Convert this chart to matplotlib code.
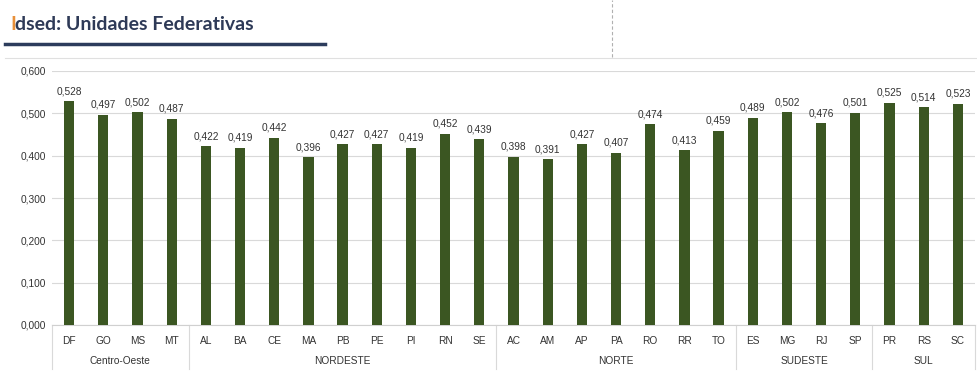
import matplotlib.pyplot as plt
from matplotlib.lines import Line2D

states = ["DF", "GO", "MS", "MT",
          "AL", "BA", "CE", "MA", "PB", "PE", "PI", "RN", "SE",
          "AC", "AM", "AP", "PA", "RO", "RR", "TO",
          "ES", "MG", "RJ", "SP",
          "PR", "RS", "SC"]
values = [0.528, 0.497, 0.502, 0.487,
          0.422, 0.419, 0.442, 0.396, 0.427, 0.427, 0.419, 0.452, 0.439,
          0.398, 0.391, 0.427, 0.407, 0.474, 0.413, 0.459,
          0.489, 0.502, 0.476, 0.501,
          0.525, 0.514, 0.523]
regions = ["Centro-Oeste", "NORDESTE", "NORTE", "SUDESTE", "SUL"]
region_sizes = [4, 9, 7, 4, 3]

plt.rcParams['font.family'] = ['Liberation Sans', 'DejaVu Sans']

fig = plt.figure(figsize=(9.77, 3.79), dpi=100)
ax = fig.add_axes([52 / 977, 1 - 325 / 379, 923 / 977, (325 - 71) / 379])

x = list(range(len(states)))
ax.bar(x, values, width=0.3, color="#3b5622", zorder=3)
for xi, v in zip(x, values):
    ax.text(xi, v + 0.012, f"{v:.3f}".replace(".", ","), ha="center", va="bottom",
            fontsize=7.3, color="#333333")

ax.set_xlim(-0.5, len(states) - 0.5)
ax.set_ylim(0, 0.6)
yt = [0, 0.1, 0.2, 0.3, 0.4, 0.5, 0.6]
ax.set_yticks(yt)
ax.set_yticklabels([f"{t:.3f}".replace(".", ",") for t in yt], fontsize=7.3, color="#333333")
ax.grid(axis="y", color="#d9d9d9", linewidth=0.8, zorder=0)
for s in ["top", "right", "left"]:
    ax.spines[s].set_visible(False)
ax.spines["bottom"].set_color("#d0d0d0")
ax.tick_params(axis="y", length=0, pad=4)
ax.set_xticks(x)
ax.set_xticklabels(states, fontsize=7.3, color="#333333")
ax.tick_params(axis="x", length=0, pad=8)

# region labels and separators
trans = ax.get_xaxis_transform()
start = 0
bounds = [-0.5]
for name, n in zip(regions, region_sizes):
    mid = start + (n - 1) / 2
    ax.text(mid, -0.14, name, transform=trans, ha="center", va="center",
            fontsize=7.3, color="#333333")
    start += n
    bounds.append(start - 0.5)
for b in bounds:
    ax.add_line(Line2D([b, b], [0, -0.175], transform=trans, color="#d9d9d9",
                       linewidth=0.8, clip_on=False))

# header
fig.text(10 / 977, 1 - 24 / 379, "I", color="#e8903a", fontsize=14,
         family="Lato", weight="bold", va="center", ha="left")
fig.text(15 / 977, 1 - 24 / 379, "dsed: Unidades Federativas", color="#2e3a57",
         fontsize=14, family="Lato", weight="bold", va="center", ha="left")
fig.add_artist(Line2D([5 / 977, 325 / 977], [1 - 44 / 379, 1 - 44 / 379],
                      color="#2c3c5c", linewidth=2.5))
fig.add_artist(Line2D([5 / 977, 977 / 977], [1 - 58 / 379, 1 - 58 / 379],
                      color="#e0e0e0", linewidth=0.8))
fig.add_artist(Line2D([612 / 977, 612 / 977], [1 - 57 / 379, 1.0],
                      color="#b0b0b0", linewidth=0.8, linestyle=(0, (3, 2))))

fig.savefig("out.png", dpi=100)
